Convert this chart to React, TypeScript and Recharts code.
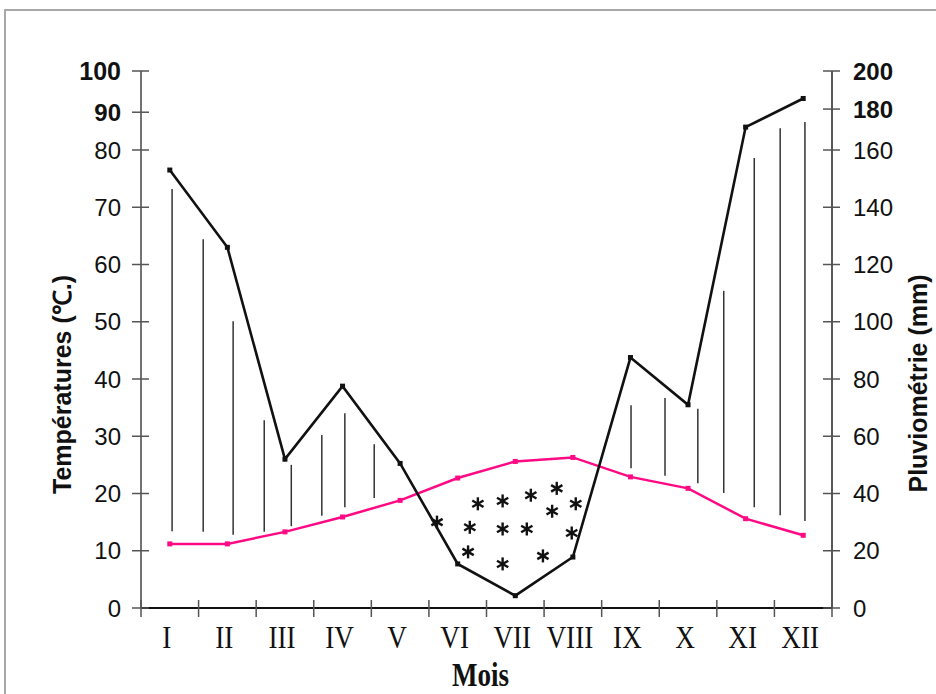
import {
  ComposedChart,
  Line,
  Scatter,
  XAxis,
  YAxis,
  ReferenceLine,
  Label,
} from 'recharts'

// months and climate values
const months = ['I', 'II', 'III', 'IV', 'V', 'VI', 'VII', 'VIII', 'IX', 'X', 'XI', 'XII']
const precipitation = [153, 126, 52, 77.5, 50.5, 15.4, 4.3, 17.8, 87.5, 71, 168, 178]
const temperature = [11.2, 11.2, 13.3, 15.9, 18.8, 22.7, 25.6, 26.3, 22.9, 20.9, 15.6, 12.7]

// axis ticks (the top two labels sit lower than their values in the original)
const tempTicks = [0, 10, 20, 30, 40, 50, 60, 70, 80, 86.6, 93.8]
const tempTickLabels = ['0', '10', '20', '30', '40', '50', '60', '70', '80', '90', '100']
const rainTicks = [0, 20, 40, 60, 80, 100, 120, 140, 160, 174.3, 187.6]
const rainTickLabels = ['0', '20', '40', '60', '80', '100', '120', '140', '160', '180', '200']
const monthTicks = [0, 0.5, 1, 1.5, 2, 2.5, 3, 3.5, 4, 4.5, 5, 5.5, 6, 6.5, 7, 7.5, 8, 8.5, 9, 9.5, 10, 10.5, 11, 11.5, 12]

// humid period hatching (x in months, top/bottom in °C)
const hatchPos = [0.54, 1.08, 1.6, 2.14, 2.61, 3.14, 3.54, 4.05, 8.51, 9.1, 9.67, 10.12, 10.65, 11.1, 11.53]
const hatchTop = [73.2, 64.4, 50.1, 32.8, 25.0, 30.2, 34.0, 28.6, 35.4, 36.7, 34.8, 55.4, 78.6, 83.8, 84.9]
const hatchBottom = [13.4, 13.3, 12.8, 13.3, 14.3, 16.1, 17.6, 19.2, 24.4, 23.1, 21.8, 20.1, 17.6, 16.2, 15.2]

// dry period asterisks
const starPos = [5.14, 5.85, 6.28, 6.77, 7.22, 7.55, 7.14, 5.71, 6.28, 6.7, 7.48, 5.68, 6.28, 6.98]
const starTemp = [15.0, 18.2, 18.7, 19.7, 20.9, 18.2, 16.9, 14.1, 13.8, 13.8, 13.1, 9.8, 7.7, 9.1]

const data = months.map((m, i) => ({
  pos: i + 0.5,
  month: m,
  rain: precipitation[i],
  temp: temperature[i],
}))
const stars = starPos.map((p, i) => ({ pos: p, star: starTemp[i] }))

const SANS = 'Liberation Sans, Arial, sans-serif'
const SERIF = 'Liberation Serif, Times New Roman, serif'
const PINK = '#ff0a84'

const LeftTick = (props: any) => {
  const { x, y, payload } = props
  const i = tempTicks.indexOf(payload.value)
  return (
    <g>
      <line x1={x - 9} x2={x + 8} y1={y} y2={y} stroke="#555" strokeWidth={1.5} />
      <text x={x - 20} y={y} dy="0.36em" textAnchor="end" fontSize={i === 10 ? 25 : 24} fontFamily={SANS}
        fontWeight={i >= 9 ? 'bold' : 'normal'} fill="#111">
        {tempTickLabels[i]}
      </text>
    </g>
  )
}

const RightTick = (props: any) => {
  const { x, y, payload } = props
  const i = rainTicks.indexOf(payload.value)
  return (
    <g>
      <line x1={x - 9} x2={x + 8} y1={y} y2={y} stroke="#555" strokeWidth={1.5} />
      <text x={x + 21} y={y} dy="0.36em" textAnchor="start" fontSize={24} fontFamily={SANS}
        fontWeight={i >= 9 ? 'bold' : 'normal'} fill="#111">
        {rainTickLabels[i]}
      </text>
    </g>
  )
}

const MonthTick = (props: any) => {
  const { x, y, payload } = props
  const v = payload.value
  if (Number.isInteger(v)) {
    return <line x1={x} x2={x} y1={y - 8} y2={y + 9} stroke="#555" strokeWidth={1.5} />
  }
  return (
    <text transform={`translate(${x - 3},${y + 40}) scale(0.85,1)`} textAnchor="middle"
      fontSize={32} fontFamily={SERIF} fill="#111">
      {months[Math.floor(v)]}
    </text>
  )
}

const Square = (color: string) => (p: any) => (
  <rect key={p.index} x={p.cx - 2.5} y={p.cy - 2.5} width={5} height={5} fill={color} />
)

const Star = (p: any) => {
  const r = 6.5
  const a = Math.PI / 6
  return (
    <g stroke="#111" strokeWidth={2.4}>
      <line x1={p.cx} y1={p.cy - r} x2={p.cx} y2={p.cy + r} />
      <line x1={p.cx - r * Math.cos(a)} y1={p.cy - r * Math.sin(a)} x2={p.cx + r * Math.cos(a)} y2={p.cy + r * Math.sin(a)} />
      <line x1={p.cx - r * Math.cos(a)} y1={p.cy + r * Math.sin(a)} x2={p.cx + r * Math.cos(a)} y2={p.cy - r * Math.sin(a)} />
    </g>
  )
}

export default function App() {
  return (
    <div style={{ position: 'absolute', left: 0, top: 0, width: 936, height: 694, background: '#fff' }}>
      <div style={{
        position: 'absolute', left: 4, top: 9, right: 0, bottom: 0,
        borderTop: '2px solid #a8a8a8', borderLeft: '2px solid #a8a8a8',
      }} />
      <div style={{ position: 'absolute', left: 0, top: 0 }}>
        <ComposedChart width={936} height={694} data={data}
          margin={{ top: 71, right: 0, bottom: 0, left: 0 }}>
          <XAxis dataKey="pos" type="number" domain={[0, 12]} ticks={monthTicks}
            interval={0} height={86} tickSize={0} tickMargin={0} tickLine={false}
            axisLine={{ stroke: '#111', strokeWidth: 2 }} tick={<MonthTick />}>
            <Label content={(p: any) => {
              const vb = p.viewBox
              return (
                <text transform={`translate(${vb.x + vb.width / 2 - 6},${vb.y + 78}) scale(0.82,1)`}
                  textAnchor="middle" fontSize={33} fontWeight="bold" fontFamily={SERIF} fill="#111">
                  Mois
                </text>
              )
            }} />
          </XAxis>
          <YAxis yAxisId="t" orientation="left" type="number" domain={[0, 93.8]} ticks={tempTicks}
            interval={0} width={141} tickSize={0} tickMargin={0} tickLine={false}
            axisLine={{ stroke: '#444', strokeWidth: 1.5 }} tick={<LeftTick />}>
            <Label content={(p: any) => {
              const vb = p.viewBox
              const cx = vb.x + 62
              const cy = vb.y + vb.height / 2 + 45
              return (
                <text transform={`translate(${cx},${cy}) rotate(-90)`} textAnchor="middle" dy="0.36em"
                  fontSize={25} fontWeight="bold" fontFamily={SANS} fill="#111">
                  Températures (℃.)
                </text>
              )
            }} />
          </YAxis>
          <YAxis yAxisId="p" orientation="right" type="number" domain={[0, 187.6]} ticks={rainTicks}
            interval={0} width={104} tickSize={0} tickMargin={0} tickLine={false}
            axisLine={{ stroke: '#222', strokeWidth: 1.5 }} tick={<RightTick />}>
            <Label content={(p: any) => {
              const vb = p.viewBox
              const cx = vb.x + 86
              const cy = vb.y + vb.height / 2 + 44
              return (
                <text transform={`translate(${cx},${cy}) rotate(-90)`} textAnchor="middle" dy="0.36em"
                  fontSize={25} fontWeight="bold" fontFamily={SANS} fill="#111">
                  Pluviométrie (mm)
                </text>
              )
            }} />
          </YAxis>

          {hatchPos.map((x, i) => (
            <ReferenceLine key={i} yAxisId="t" ifOverflow="visible" stroke="#333" strokeWidth={1.5}
              segment={[{ x, y: hatchBottom[i] }, { x, y: hatchTop[i] }]} />
          ))}

          <Line yAxisId="t" dataKey="temp" type="linear" stroke={PINK} strokeWidth={2.5}
            dot={Square(PINK)} activeDot={false} isAnimationActive={false} />
          <Line yAxisId="p" dataKey="rain" type="linear" stroke="#111" strokeWidth={2.6}
            dot={Square('#111')} activeDot={false} isAnimationActive={false} />
          <Scatter yAxisId="t" data={stars} dataKey="star" shape={Star} isAnimationActive={false} />
        </ComposedChart>
      </div>
    </div>
  )
}
